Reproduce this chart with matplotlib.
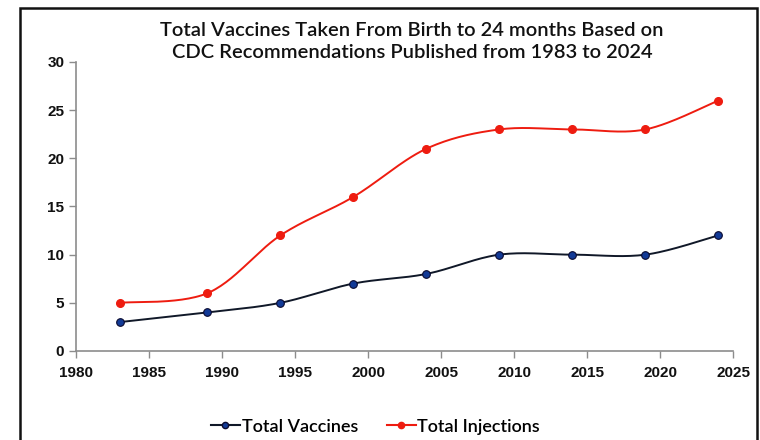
import matplotlib.pyplot as plt
import numpy as np
from matplotlib.patches import Rectangle
from matplotlib.lines import Line2D

years = [1983, 1989, 1994, 1999, 2004, 2009, 2014, 2019, 2024]
total_vaccines = [3, 4, 5, 7, 8, 10, 10, 10, 12]
total_injections = [5, 6, 12, 16, 21, 23, 23, 23, 26]


# Excel-like smoothed line (Catmull-Rom through the points)
def smooth(x, y, n=30):
    p = np.column_stack([x, y]).astype(float)
    p = np.vstack([p[0], p, p[-1]])
    out = []
    for i in range(1, len(p) - 2):
        p0, p1, p2, p3 = p[i - 1], p[i], p[i + 1], p[i + 2]
        c1 = p1 + (p2 - p0) / 6
        c2 = p2 - (p3 - p1) / 6
        t = np.linspace(0, 1, n)[:, None]
        seg = (1 - t) ** 3 * p1 + 3 * (1 - t) ** 2 * t * c1 + 3 * (1 - t) * t ** 2 * c2 + t ** 3 * p2
        out.append(seg)
    out = np.vstack(out)
    return out[:, 0], out[:, 1]


fig = plt.figure(figsize=(7.6, 4.4), dpi=100)
ax = fig.add_axes([0.1, 0.2023, 0.8645, 0.6568])

red = '#ee1c10'

sx, sy = smooth(years, total_vaccines)
ax.plot(sx, sy, color='#101828', lw=1.4)
ax.plot(years, total_vaccines, 'o', color='#123a96', mec='#0a0a30', mew=0.8, ms=5.5)

sx, sy = smooth(years, total_injections)
ax.plot(sx, sy, color=red, lw=1.4)
ax.plot(years, total_injections, 'o', color=red, mec=red, ms=5.5)

ax.set_xlim(1980, 2025)
ax.set_ylim(0, 30)
ax.set_xticks(np.arange(1980, 2026, 5))
ax.set_yticks(np.arange(0, 31, 5))
for s in ['top', 'right']:
    ax.spines[s].set_visible(False)
for s in ['left', 'bottom']:
    ax.spines[s].set_color('#8c8c8c')
    ax.spines[s].set_linewidth(1.2)
ax.tick_params(colors='#8c8c8c', length=5, width=1.0, labelcolor='#111111')
for lab in ax.get_xticklabels() + ax.get_yticklabels():
    lab.set_fontfamily('Liberation Sans')
    lab.set_fontsize(11)
    lab.set_fontweight('bold')
ax.tick_params(axis='x', pad=6)

fig.text(0.542, 0.905, 'Total Vaccines Taken From Birth to 24 months Based on\nCDC Recommendations Published from 1983 to 2024',
         ha='center', va='center', fontsize=14.5, family='Lato', fontweight='semibold',
         linespacing=1.35, color='#111111')

handles = [
    Line2D([], [], color='#101828', lw=1.5, marker='o', ms=4.5, mfc='#123a96', mec='#0a0a30'),
    Line2D([], [], color=red, lw=1.5, marker='o', ms=4.5, mfc=red, mec=red),
]
fig.legend(handles, ['Total Vaccines', 'Total Injections'], loc='center', bbox_to_anchor=(0.494, 0.03),
           ncol=2, frameon=False, prop={'family': 'Lato', 'size': 13, 'weight': 'semibold'}, handlelength=1.6,
           handletextpad=0.1, columnspacing=1.6)

fig.patches.append(Rectangle((20 / 760, -0.1), 737 / 760, 1.082, transform=fig.transFigure,
                             fill=False, ec='#111111', lw=1.8))

fig.savefig('out.png', dpi=100)
